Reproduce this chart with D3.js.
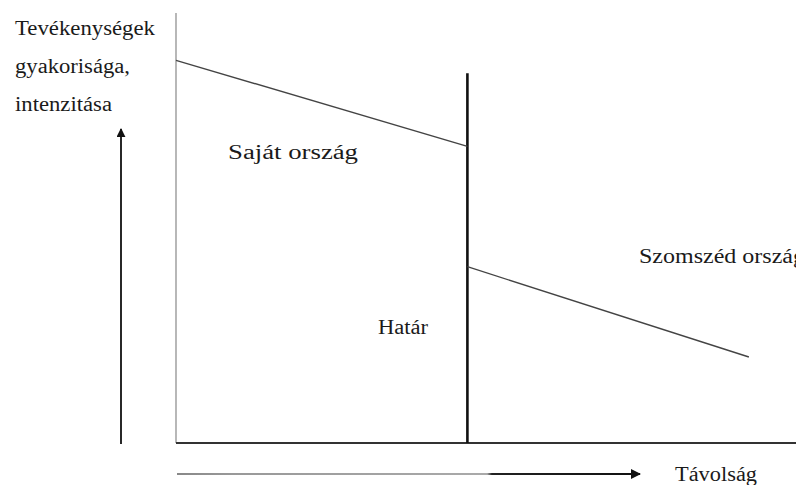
<!DOCTYPE html>
<html>
<head>
<meta charset="utf-8">
<script src="https://cdn.jsdelivr.net/npm/d3@7"></script>
<style>
  body { margin: 0; background: #fff; }
</style>
</head>
<body>
<svg id="chart" width="796" height="485"></svg>
<script>
// conceptual data: distance (0-100) vs activity intensity (0-100)
const ownCountry = [{d: 0, v: 89}, {d: 47, v: 69}];
const neighbourCountry = [{d: 47, v: 41}, {d: 92.4, v: 20}];
const borderAt = 47;
const borderTop = 86;
const yLabel = ["Tevékenységek", "gyakorisága,", "intenzitása"];
const xLabel = "Távolság";
const regionLabels = ["Saját ország", "Határ", "Szomszéd ország"];

const svg = d3.select("#chart"),
    width = +svg.attr("width"),
    height = +svg.attr("height");

const serif = "'Liberation Serif', 'Times New Roman', 'DejaVu Serif', serif";

const x = d3.scaleLinear().domain([0, 100]).range([176, 796]);
const y = d3.scaleLinear().domain([0, 100]).range([443, 13]);

const defs = svg.append("defs");
defs.append("marker")
    .attr("id", "head")
    .attr("viewBox", "0 0 10 10")
    .attr("refX", 9).attr("refY", 5)
    .attr("markerWidth", 5).attr("markerHeight", 5)
    .attr("orient", "auto")
  .append("path")
    .attr("d", "M0,0 L10,5 L0,10 Z")
    .attr("fill", "#111");

const grad = defs.append("linearGradient")
    .attr("id", "fade")
    .attr("gradientUnits", "userSpaceOnUse")
    .attr("x1", 177).attr("x2", 640).attr("y1", 0).attr("y2", 0);
grad.append("stop").attr("offset", "0").attr("stop-color", "#888");
grad.append("stop").attr("offset", "0.12").attr("stop-color", "#999");
grad.append("stop").attr("offset", "0.67").attr("stop-color", "#aaa");
grad.append("stop").attr("offset", "0.68").attr("stop-color", "#222");
grad.append("stop").attr("offset", "1").attr("stop-color", "#111");

// frame: left axis and bottom axis
svg.append("line")
    .attr("x1", x(0)).attr("x2", x(0))
    .attr("y1", y(100)).attr("y2", y(0))
    .attr("stroke", "#888").attr("stroke-width", 1.2);
svg.append("line")
    .attr("x1", x(0)).attr("x2", x(100))
    .attr("y1", y(0)).attr("y2", y(0))
    .attr("stroke", "#333").attr("stroke-width", 2);

// border
svg.append("line")
    .attr("x1", x(borderAt)).attr("x2", x(borderAt))
    .attr("y1", y(borderTop)).attr("y2", y(0))
    .attr("stroke", "#111").attr("stroke-width", 2.6);

const line = d3.line().x(d => x(d.d)).y(d => y(d.v));

svg.selectAll("path.trend")
    .data([ownCountry, neighbourCountry])
    .join("path")
      .attr("class", "trend")
      .attr("d", line)
      .attr("fill", "none")
      .attr("stroke", "#444")
      .attr("stroke-width", 1.4);

// arrows
svg.append("line")
    .attr("x1", 121).attr("x2", 121)
    .attr("y1", 444).attr("y2", 129)
    .attr("stroke", "#111").attr("stroke-width", 1.8)
    .attr("marker-end", "url(#head)");
svg.append("line")
    .attr("x1", 177).attr("x2", 640)
    .attr("y1", 474).attr("y2", 474)
    .attr("stroke", "url(#fade)").attr("stroke-width", 2)
    .attr("marker-end", "url(#head)");

// texts
function label(sel) {
  sel.attr("font-family", serif)
     .attr("font-size", 20)
     .attr("fill", "#1a1a1a")
     .attr("lengthAdjust", "spacingAndGlyphs");
}

const yLabelWidth = [140, 115, 97];
svg.selectAll("text.ylab")
    .data(yLabel)
    .join("text")
      .attr("class", "ylab")
      .attr("x", 15)
      .attr("y", (d, i) => 35 + i * 38)
      .attr("textLength", (d, i) => yLabelWidth[i])
      .call(label)
      .text(d => d);

svg.append("text")
    .attr("x", 675).attr("y", 481)
    .attr("textLength", 82)
    .call(label)
    .text(xLabel);

const labelPos = [[228, 159, 130], [378, 334, 50], [639, 263, 166]];
svg.selectAll("text.region")
    .data(regionLabels)
    .join("text")
      .attr("class", "region")
      .attr("x", (d, i) => labelPos[i][0])
      .attr("y", (d, i) => labelPos[i][1])
      .attr("textLength", (d, i) => labelPos[i][2])
      .call(label)
      .text(d => d);
</script>
</body>
</html>
